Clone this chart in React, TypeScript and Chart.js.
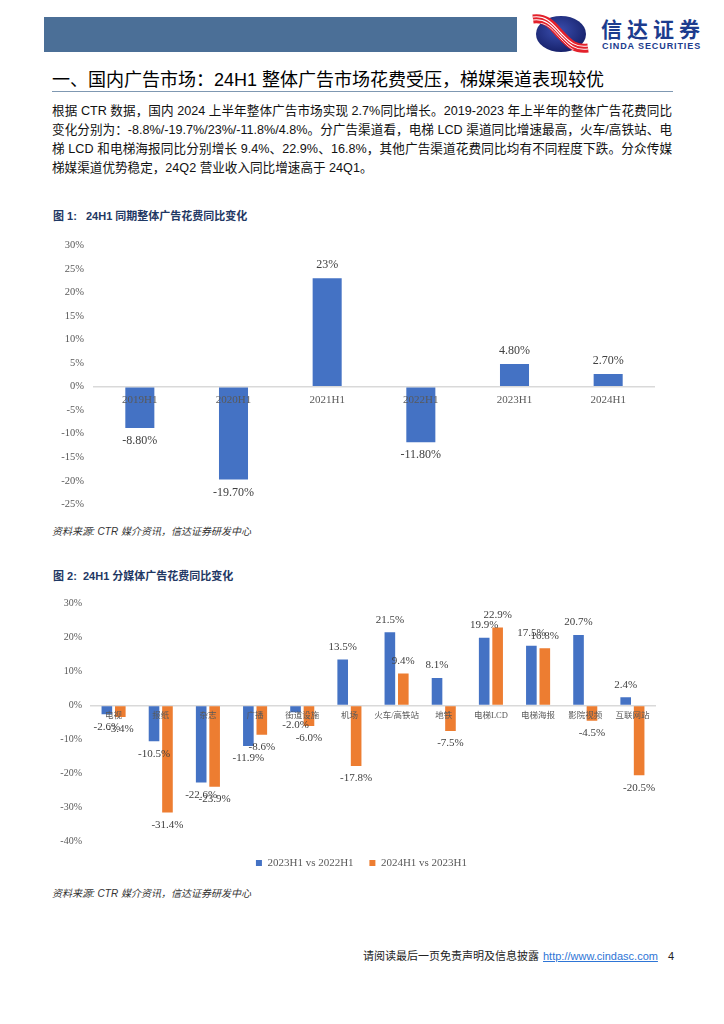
import React, { useEffect, useRef } from 'react';
import { Chart, registerables } from 'chart.js';

Chart.register(...registerables);

// ---------- Data ----------
const years = ['2019H1', '2020H1', '2021H1', '2022H1', '2023H1', '2024H1'];
const totalGrowth = [-8.8, -19.7, 23, -11.8, 4.8, 2.7];
const totalGrowthLabels = ['-8.80%', '-19.70%', '23%', '-11.80%', '4.80%', '2.70%'];

const media = ['电视', '报纸', '杂志', '广播', '街道设施', '机场', '火车/高铁站', '地铁', '电梯LCD', '电梯海报', '影院视频', '互联网站'];
const growth23vs22 = [-2.6, -10.5, -22.6, -11.9, -2.0, 13.5, 21.5, 8.1, 19.9, 17.5, 20.7, 2.4];
const growth24vs23 = [-3.4, -31.4, -23.9, -8.6, -6.0, -17.8, 9.4, -7.5, 22.9, 16.8, -4.5, -20.5];
const seriesNames = ['2023H1 vs 2022H1', '2024H1 vs 2023H1'];

const BLUE = '#4472C4';
const ORANGE = '#ED7D31';
const SERIF = "'Liberation Serif', 'Noto Sans CJK SC', serif";
const SANS = "'Liberation Sans', 'Noto Sans CJK SC', sans-serif";
const CJK = "'Noto Sans CJK SC', sans-serif";

// ---------- Plugins ----------
function makeZeroLabels(font: string, color: string, offset: number) {
  return {
    id: 'zeroLabels',
    afterDatasetsDraw(chart: any) {
      const { ctx, scales } = chart;
      const x = scales.x;
      const y = scales.y;
      const y0 = y.getPixelForValue(0);
      ctx.save();
      ctx.font = font;
      ctx.fillStyle = color;
      ctx.textAlign = 'center';
      ctx.textBaseline = 'middle';
      (chart.data.labels as string[]).forEach((l, i) => {
        ctx.fillText(l, x.getPixelForValue(i), y0 + offset);
      });
      ctx.restore();
    },
  };
}

function makeValueLabels(format: (v: number, di: number, i: number) => string, font: string, color: string, offset: number) {
  return {
    id: 'valueLabels',
    afterDatasetsDraw(chart: any) {
      const { ctx } = chart;
      ctx.save();
      ctx.font = font;
      ctx.fillStyle = color;
      ctx.textAlign = 'center';
      ctx.textBaseline = 'middle';
      chart.data.datasets.forEach((ds: any, di: number) => {
        const meta = chart.getDatasetMeta(di);
        meta.data.forEach((bar: any, i: number) => {
          const v = ds.data[i] as number;
          const yy = v >= 0 ? bar.y - offset : bar.y + offset;
          ctx.fillText(format(v, di, i), bar.x, yy);
        });
      });
      ctx.restore();
    },
  };
}

const zeroGrid = (ctx: any) => (ctx.tick && ctx.tick.value === 0 ? '#D9D9D9' : 'rgba(0,0,0,0)');

// ---------- Charts ----------
function Chart1() {
  const ref = useRef<HTMLCanvasElement>(null);
  useEffect(() => {
    const chart = new Chart(ref.current as HTMLCanvasElement, {
      type: 'bar',
      data: {
        labels: years,
        datasets: [
          {
            data: totalGrowth,
            backgroundColor: BLUE,
            borderWidth: 0,
            barPercentage: 0.31,
            categoryPercentage: 1,
          },
        ],
      },
      options: {
        responsive: false,
        maintainAspectRatio: false,
        animation: false,
        layout: { padding: { left: 0, right: 25, top: 13.3, bottom: 15.6 } },
        plugins: { legend: { display: false }, tooltip: { enabled: false } },
        scales: {
          x: { display: false },
          y: {
            min: -25,
            max: 30,
            ticks: {
              stepSize: 5,
              padding: 9,
              color: '#595959',
              font: { family: SERIF, size: 10.5 },
              callback: (v: any) => v + '%',
            },
            grid: { drawTicks: false, color: zeroGrid, lineWidth: 1.5 },
            border: { display: false },
            afterFit: (s: any) => {
              s.width = 53;
            },
          },
        },
      },
      plugins: [
        makeZeroLabels(`11px ${SERIF}`, '#595959', 13.6),
        makeValueLabels((_v, _d, i) => totalGrowthLabels[i], `12px ${SERIF}`, '#404040', 13),
      ],
    } as any);
    return () => chart.destroy();
  }, []);
  return <canvas ref={ref} width={640} height={290} style={{ position: 'absolute', left: 40, top: 230, width: 640, height: 290 }} />;
}

function Chart2() {
  const ref = useRef<HTMLCanvasElement>(null);
  useEffect(() => {
    const chart = new Chart(ref.current as HTMLCanvasElement, {
      type: 'bar',
      data: {
        labels: media,
        datasets: [
          {
            label: seriesNames[0],
            data: growth23vs22,
            backgroundColor: BLUE,
            borderWidth: 0,
            barPercentage: 0.79,
            categoryPercentage: 0.57,
          },
          {
            label: seriesNames[1],
            data: growth24vs23,
            backgroundColor: ORANGE,
            borderWidth: 0,
            barPercentage: 0.79,
            categoryPercentage: 0.57,
          },
        ],
      },
      options: {
        responsive: false,
        maintainAspectRatio: false,
        animation: false,
        layout: { padding: { left: 27, right: 24, top: 13.3, bottom: 1.5 } },
        plugins: {
          legend: {
            display: true,
            position: 'bottom',
            labels: {
              boxWidth: 6,
              boxHeight: 6,
              padding: 15.8,
              color: '#595959',
              font: { family: SERIF, size: 11 },
            },
          },
          tooltip: { enabled: false },
        },
        scales: {
          x: { display: false },
          y: {
            min: -40,
            max: 30,
            ticks: {
              stepSize: 10,
              mirror: true,
              crossAlign: 'far',
              padding: -29.7,
              color: '#595959',
              font: { family: SERIF, size: 10 },
              callback: (v: any) => v + '%',
            },
            grid: { drawTicks: false, color: zeroGrid, lineWidth: 1.5 },
            border: { display: false },
            afterFit: (s: any) => {
              s.width = 23;
            },
          },
        },
      },
      plugins: [
        makeZeroLabels(`8.5px ${SERIF}`, '#595959', 10),
        makeValueLabels((v) => v.toFixed(1) + '%', `11px ${SERIF}`, '#404040', 12.5),
      ],
    } as any);
    return () => chart.destroy();
  }, []);
  return <canvas ref={ref} width={640} height={290} style={{ position: 'absolute', left: 40, top: 590, width: 640, height: 290 }} />;
}

// ---------- Page pieces ----------
function Logo() {
  return (
    <div style={{ position: 'absolute', left: 532, top: 14, width: 180, height: 40 }}>
      <svg width={58} height={40} viewBox="0 0 58 40" style={{ position: 'absolute', left: 0, top: 0 }}>
        <defs>
          <radialGradient id="lg" cx="45%" cy="40%" r="65%">
            <stop offset="0%" stopColor="#3B4FB0" />
            <stop offset="100%" stopColor="#141E66" />
          </radialGradient>
          <clipPath id="lc">
            <ellipse cx={29} cy={20} rx={25} ry={18} />
          </clipPath>
        </defs>
        <ellipse cx={29} cy={20} rx={25} ry={18} fill="url(#lg)" />
        <path d="M1 5 C 16 3, 22 14, 29 21 S 42 36, 56 34" stroke="#E3212B" strokeWidth={9} fill="none" />
        <path d="M1 3 C 16 1, 22 12, 29 19 S 42 34, 56 32" stroke="#FFFFFF" strokeWidth={1.1} fill="none" />
        <path d="M1 6 C 16 4, 22 15, 29 22 S 42 37, 56 35" stroke="#FFFFFF" strokeWidth={1.1} fill="none" />
        <path d="M1 9 C 16 7, 22 18, 29 25 S 42 40, 56 38" stroke="#FFFFFF" strokeWidth={0.8} fill="none" clipPath="url(#lc)" />
      </svg>
      <div
        style={{
          position: 'absolute',
          left: 69,
          top: 2,
          fontFamily: CJK,
          fontWeight: 700,
          fontSize: 21,
          letterSpacing: 5,
          color: '#1C3C8E',
          lineHeight: '24px',
          whiteSpace: 'nowrap',
        }}
      >
        信达证券
      </div>
      <div
        style={{
          position: 'absolute',
          left: 70,
          top: 27,
          fontFamily: "'Liberation Sans', sans-serif",
          fontWeight: 700,
          fontSize: 9,
          letterSpacing: 0.9,
          color: '#1C3C8E',
          lineHeight: '10px',
          whiteSpace: 'nowrap',
        }}
      >
        CINDA SECURITIES
      </div>
    </div>
  );
}

const bodyLines = [
  '根据 CTR 数据，国内 2024 上半年整体广告市场实现 2.7%同比增长。2019-2023 年上半年的整体广告花费同比',
  '变化分别为：-8.8%/-19.7%/23%/-11.8%/4.8%。分广告渠道看，电梯 LCD 渠道同比增速最高，火车/高铁站、电',
  '梯 LCD 和电梯海报同比分别增长 9.4%、22.9%、16.8%，其他广告渠道花费同比均有不同程度下跌。分众传媒',
  '梯媒渠道优势稳定，24Q2 营业收入同比增速高于 24Q1。',
];

const abs = (left: number, top: number, extra: React.CSSProperties = {}): React.CSSProperties => ({
  position: 'absolute',
  left,
  top,
  whiteSpace: 'nowrap',
  ...extra,
});

export default function App() {
  return (
    <div
      style={{
        position: 'absolute',
        left: 0,
        top: 0,
        width: 724,
        height: 1024,
        background: '#FFFFFF',
        overflow: 'hidden',
      }}
    >
      <div style={{ position: 'absolute', left: 44, top: 17, width: 473, height: 35, background: '#4B6F97' }} />
      <Logo />

      <div style={abs(52, 68.5, { fontFamily: SANS, fontSize: 18, lineHeight: '22px', color: '#000' })}>
        一、国内广告市场：24H1 整体广告市场花费受压，梯媒渠道表现较优
      </div>
      <div style={{ position: 'absolute', left: 52, top: 90.5, width: 621, height: 1, background: '#7F98B2' }} />

      {bodyLines.map((t, i) => (
        <div
          key={i}
          style={abs(52, 102.2 + i * 19, {
            width: 620,
            fontFamily: SANS,
            fontSize: 12.6,
            lineHeight: '19px',
            color: '#111',
            textAlign: i < bodyLines.length - 1 ? 'justify' : 'left',
            textAlignLast: i < bodyLines.length - 1 ? 'justify' : 'left',
          })}
        >
          {t}
        </div>
      ))}

      <div style={abs(53, 209, { fontFamily: SANS, fontWeight: 700, fontSize: 11, lineHeight: '14px', color: '#1F3864' })}>
        图 1:&nbsp;&nbsp;&nbsp;24H1 同期整体广告花费同比变化
      </div>
      <Chart1 />
      <div style={abs(52, 525, { fontFamily: SANS, fontStyle: 'italic', fontSize: 10, lineHeight: '14px', color: '#333' })}>
        资料来源: CTR 媒介资讯，信达证券研发中心
      </div>

      <div style={abs(53, 569, { fontFamily: SANS, fontWeight: 700, fontSize: 11, lineHeight: '14px', color: '#1F3864' })}>
        图 2:&nbsp;&nbsp;24H1 分媒体广告花费同比变化
      </div>
      <Chart2 />
      <div style={abs(52, 887, { fontFamily: SANS, fontStyle: 'italic', fontSize: 10, lineHeight: '14px', color: '#333' })}>
        资料来源: CTR 媒介资讯，信达证券研发中心
      </div>

      <div style={abs(363, 949, { fontFamily: SANS, fontSize: 11, lineHeight: '14px', color: '#222' })}>
        请阅读最后一页免责声明及信息披露
      </div>
      <div
        style={abs(543, 949, {
          fontFamily: "'Liberation Sans', sans-serif",
          fontSize: 11,
          lineHeight: '14px',
          color: '#2E75D6',
          textDecoration: 'underline',
        })}
      >
        http://www.cindasc.com
      </div>
      <div style={abs(668, 949, { fontFamily: "'Liberation Sans', sans-serif", fontSize: 11, lineHeight: '14px', color: '#222' })}>
        4
      </div>
    </div>
  );
}
